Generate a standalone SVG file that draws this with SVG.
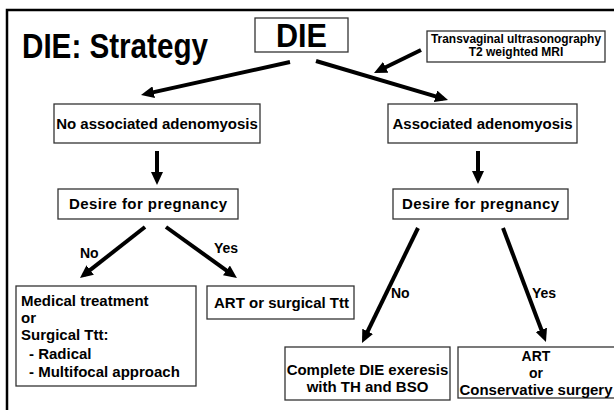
<svg xmlns="http://www.w3.org/2000/svg" width="614" height="410" viewBox="0 0 614 410">
<defs>
<style>
.box{fill:#fff;stroke:#333;stroke-width:1.3}
.t{font-family:"Liberation Sans",Arial,sans-serif;font-weight:bold;fill:#000}
.c{text-anchor:middle}
.f15{font-size:15px}
.arr{stroke:#000;stroke-width:4;fill:none;marker-end:url(#ah)}
</style>
<marker id="ah" markerWidth="14" markerHeight="12" refX="8" refY="6" orient="auto" markerUnits="userSpaceOnUse">
<path d="M0,0 L13,6 L0,12 z" fill="#000"/>
</marker>
</defs>
<rect x="0" y="0" width="614" height="410" fill="#fff"/>
<path d="M7,410 V10 H614" fill="none" stroke="#000" stroke-width="2.5"/>
<g id="title"><text class="t" x="22" y="58" font-size="35" textLength="186" lengthAdjust="spacingAndGlyphs">DIE: Strategy</text></g>
<g id="die"><rect class="box" x="255" y="18" width="93" height="34"/><text class="t c" x="301.5" y="47" font-size="33" textLength="51" lengthAdjust="spacingAndGlyphs">DIE</text></g>
<g id="imaging"><rect class="box" x="427" y="31" width="178" height="31"/>
<text class="t c" x="516" y="43" font-size="12" textLength="170" lengthAdjust="spacingAndGlyphs">Transvaginal ultrasonography</text>
<text class="t c" x="516" y="56" font-size="12">T2 weighted MRI</text></g>
<g id="noadeno"><rect class="box" x="54" y="104" width="206" height="39"/><text class="t c f15" x="157" y="129">No associated adenomyosis</text></g>
<g id="adeno"><rect class="box" x="388" y="104" width="189" height="39"/><text class="t c f15" x="482.5" y="129">Associated adenomyosis</text></g>
<g id="desire1"><rect class="box" x="58" y="189" width="180" height="30"/><text class="t c f15" x="148" y="209" textLength="158">Desire for pregnancy</text></g>
<g id="desire2"><rect class="box" x="393" y="189" width="175" height="30"/><text class="t c f15" x="480.5" y="209" textLength="157">Desire for pregnancy</text></g>
<g id="medical"><rect class="box" x="16" y="286" width="180" height="100"/>
<text class="t f15" x="21" y="306">Medical treatment</text>
<text class="t f15" x="21" y="323">or</text>
<text class="t f15" x="21" y="340">Surgical Ttt:</text>
<text class="t f15" x="29" y="359">- Radical</text>
<text class="t f15" x="29" y="377">- Multifocal approach</text></g>
<g id="art1"><rect class="box" x="207" y="286" width="147" height="33"/><text class="t f15" x="214" y="308">ART or surgical Ttt</text></g>
<g id="complete"><rect class="box" x="285" y="347" width="165" height="53"/>
<text class="t c f15" x="367.5" y="375">Complete DIE exeresis</text>
<text class="t c f15" x="367.5" y="392">with TH and BSO</text></g>
<g id="art2"><rect class="box" x="458" y="347" width="160" height="51"/>
<text class="t c" x="536" y="361" font-size="14">ART</text>
<text class="t c" x="536" y="378" font-size="14">or</text>
<text class="t c" x="536" y="395" font-size="14" textLength="153" lengthAdjust="spacingAndGlyphs">Conservative surgery</text></g>
<g id="labels">
<text class="t" x="80" y="258" font-size="14">No</text>
<text class="t" x="214" y="253" font-size="14">Yes</text>
<text class="t" x="391" y="298" font-size="14">No</text>
<text class="t" x="532" y="298" font-size="14">Yes</text>
</g>
<g id="connectors">
<line class="arr" x1="290" y1="62" x2="145.9" y2="93.9"/>
<line class="arr" x1="316" y1="61" x2="443.2" y2="98.6"/>
<line class="arr" x1="421" y1="50" x2="378.5" y2="70.8"/>
<line class="arr" x1="157" y1="151" x2="157" y2="180"/>
<line class="arr" x1="478" y1="151" x2="478" y2="179"/>
<line class="arr" x1="145" y1="227" x2="83.9" y2="274.9"/>
<line class="arr" x1="166" y1="227" x2="232.9" y2="275.1"/>
<line class="arr" x1="418" y1="228" x2="364.2" y2="338.5"/>
<line class="arr" x1="503" y1="228" x2="544.2" y2="337.3"/>
</g>
</svg>
